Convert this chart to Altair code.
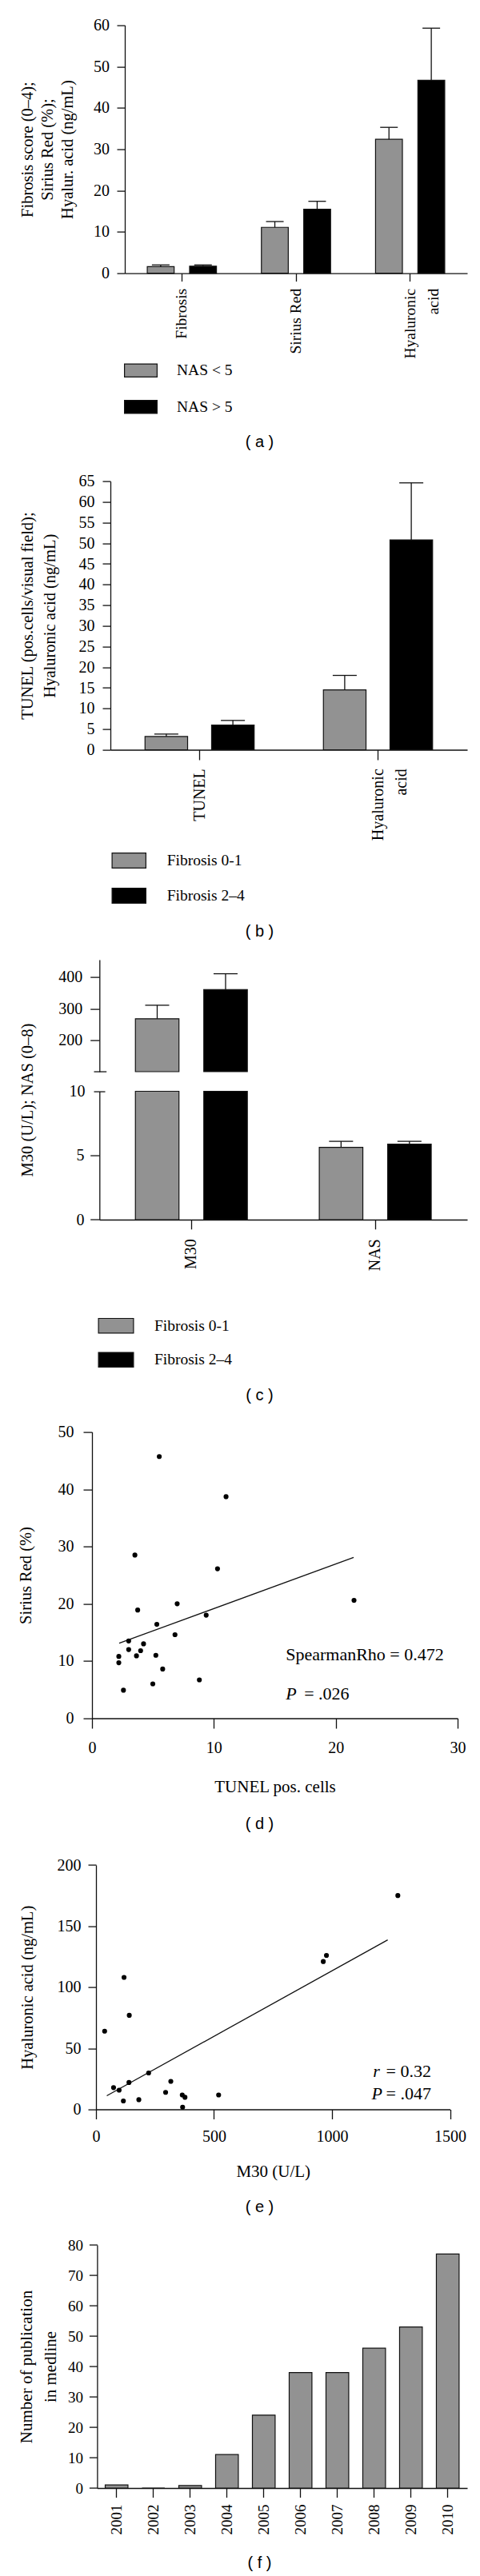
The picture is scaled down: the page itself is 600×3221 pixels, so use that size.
import altair as alt
import pandas as pd

SERIF = "Liberation Serif"
SANS = "Liberation Sans"
GRAY = "#929292"
INK = "#111111"

# ---------------- layout (page pixels) ----------------
VX, VY = 100.0, 31.6          # page position of the single view's origin
W, BOTTOM = 483.0, 3111.0     # view width, page y of the view's bottom edge
H_VIEW = BOTTOM - VY
LABEL_X = 323.0               # page x of the panel captions

# ---------------- data ----------------
# (a)
a_categories = ["Fibrosis", "Sirius Red", "Hyaluronic\nacid"]
a_groups = ["NAS < 5", "NAS > 5"]
a_mean_lt5 = [1.6, 11.1, 32.4]
a_top_lt5 = [2.0, 12.5, 35.3]
a_mean_gt5 = [1.7, 15.5, 46.7]
a_top_gt5 = [2.0, 17.4, 59.3]
a_yticks = [0, 10, 20, 30, 40, 50, 60]
a_ytitle = ["Fibrosis score (0–4);", "Sirius Red (%);", "Hyalur. acid (ng/mL)"]

# (b)
b_categories = ["TUNEL", "Hyaluronic\nacid"]
b_groups = ["Fibrosis 0-1", "Fibrosis 2–4"]
b_mean_f01 = [3.2, 14.5]
b_top_f01 = [3.8, 18.0]
b_mean_f24 = [6.0, 50.8]
b_top_f24 = [7.1, 64.6]
b_yticks = [0, 5, 10, 15, 20, 25, 30, 35, 40, 45, 50, 55, 60, 65]
b_ytitle = ["TUNEL (pos.cells/visual field);", "Hyaluronic acid (ng/mL)"]

# (c)
c_categories = ["M30", "NAS"]
c_groups = ["Fibrosis 0-1", "Fibrosis 2–4"]
c_mean_f01 = [268, 5.63]
c_top_f01 = [311, 6.1]
c_mean_f24 = [361, 5.88]
c_top_f24 = [411, 6.1]
c_upper_domain = [100, 455.6]
c_upper_ticks = [200, 300, 400]
c_lower_domain = [0, 10]
c_lower_ticks = [0, 5]
c_upper_break = [100]
c_lower_break = [10]

# (d)
d_tunel = [5.52, 11.0, 3.52, 10.3, 21.5, 6.99, 3.75, 9.37, 5.32, 6.81, 3.01,
           4.23, 3.01, 3.99, 2.2, 3.65, 5.24, 2.2, 5.8, 8.81, 4.99, 2.58]
d_sirius = [45.7, 38.7, 28.5, 26.1, 20.6, 20.0, 18.9, 18.0, 16.4, 14.6, 13.5,
            13.0, 12.0, 11.8, 10.8, 10.9, 11.0, 9.7, 8.6, 6.7, 6.0, 4.9]
d_fit_tunel = [2.23, 21.47]
d_fit_sirius = [13.1, 28.1]
d_xticks = [0, 10, 20, 30]
d_yticks = [0, 10, 20, 30, 40, 50]
d_note_x = [15.9]
d_rho_y = [11.1]
d_p_y = [4.3]

# (e)
e_m30 = [36.6, 118.8, 141.0, 74.4, 98.0, 139.7, 116.0, 181.5, 223.0, 295.0,
         317.0, 365.5, 377.0, 367.0, 519.6, 963.0, 976.5, 1279.0]
e_ha = [64.0, 108.0, 77.0, 17.8, 15.7, 22.0, 6.9, 7.9, 29.8, 13.9,
        22.9, 11.8, 9.9, 1.8, 11.8, 121.0, 126.0, 175.0]
e_fit_m30 = [45.7, 1236.0]
e_fit_ha = [11.1, 138.7]
e_xticks = [0, 500, 1000, 1500]
e_yticks = [0, 50, 100, 150, 200]
e_note_x = [1420.3]
e_r_y = [31.1]
e_p_y = [12.8]

# (f)
f_years = ["2001", "2002", "2003", "2004", "2005", "2006", "2007", "2008", "2009", "2010"]
f_counts = [1, 0, 0.8, 11, 24, 38, 38, 46, 53, 77]
f_yticks = [0, 10, 20, 30, 40, 50, 60, 70, 80]

# ---------------- helpers ----------------
CAPTION = dict(titleFont=SANS, titleFontSize=20, titleFontWeight="normal",
               titleColor="black", titleBaseline="top", titleAlign="center",
               titleX=LABEL_X - VX, titleLimit=600)


def grouped_frame(cats, groups, means, tops):
    rows = []
    for g, ms, ts in zip(groups, means, tops):
        for c, m, t in zip(cats, ms, ts):
            rows.append({"cat": c, "grp": g, "mean": m, "upper": t})
    return pd.DataFrame(rows)


def rect_symbol(w, h, unit=9.0, sw=1.2):
    hw = (w - sw) / 2 / unit
    hh = (h - sw) / 2 / unit
    return (f"M{-hw:.4f},{-hh:.4f}L{hw:.4f},{-hh:.4f}"
            f"L{hw:.4f},{hh:.4f}L{-hw:.4f},{hh:.4f}Z")


def box_legend(w, h, row_step, label_start, left, top):
    return alt.Legend(
        orient="none", legendX=left - VX, legendY=top - VY, title=None,
        direction="vertical", padding=0, symbolType=rect_symbol(w, h),
        symbolSize=324, symbolStrokeColor=INK, symbolStrokeWidth=1.2,
        symbolOpacity=1, symbolOffset=w / 2 - 10, labelOffset=label_start - 20,
        rowPadding=row_step - 20, labelFont=SERIF, labelFontSize=19.5,
        labelColor="black", labelBaseline="middle", labelLimit=300)


def y_scale(domain, top, bottom):
    return alt.Scale(domain=domain, range=[bottom - VY, top - VY], nice=False, zero=False)


def left_axis(ax, values, tick, pad, top=None, bottom=None, title=None, title_left=23,
              line_h=None, font=20, title_font=20.5, title_y=None, **kw):
    args = dict(orient="left", values=values, offset=-(ax - VX), tickSize=tick,
                labelPadding=pad, labelFontSize=font)
    if title is None:
        args["title"] = None
    else:
        ty = title_y if title_y is not None else (top + bottom) / 2
        args.update(title=title, titleX=title_left - ax, titleY=ty - VY,
                    titleBaseline="top", titleAlign="center", titleFontSize=title_font,
                    titleLimit=600)
        if line_h:
            args["titleLineHeight"] = line_h
    args.update(kw)
    return alt.Axis(**args)


def bottom_axis(bottom, **kw):
    return alt.Axis(orient="bottom", offset=-(BOTTOM - bottom), **kw)


def band_x_axis(bottom, tick, pad, caption, caption_top, font=20):
    return bottom_axis(
        bottom, labelAngle=-90, labelAlign="right", labelBaseline="middle",
        labelExpr="split(datum.label, '\\n')", labelLineHeight=29,
        tickSize=tick, labelPadding=pad, labelFontSize=font,
        title=caption, titleY=caption_top - bottom, **CAPTION)


def caption_axis(bottom, caption, caption_top):
    return bottom_axis(bottom, domain=False, ticks=False, labels=False,
                       title=caption, titleY=caption_top - bottom, **CAPTION)


def fill_enc(groups, legend):
    return alt.Fill("grp:N", scale=alt.Scale(domain=groups, range=[GRAY, "black"]),
                    legend=legend)


def grouped_layers(df, cats, groups, ax, top, bottom, ydom, yaxis, xaxis,
                   off_in, off_out, cap, legend):
    xs = alt.Scale(domain=cats, range=[ax - VX, W], paddingInner=0, paddingOuter=0)
    xo = alt.XOffset("grp:N", scale=alt.Scale(domain=groups, paddingInner=off_in,
                                              paddingOuter=off_out))
    ys = y_scale(ydom, top, bottom)
    bars = alt.Chart(df).mark_bar(stroke=INK, strokeWidth=1.2).encode(
        x=alt.X("cat:N", scale=xs, axis=xaxis), xOffset=xo,
        y=alt.Y("mean:Q", scale=ys, axis=yaxis), y2=alt.Y2Datum(0),
        fill=fill_enc(groups, legend))
    stems = alt.Chart(df).mark_rule(color=INK, strokeWidth=1.3).encode(
        x=alt.X("cat:N", scale=xs, axis=None), xOffset=xo,
        y=alt.Y("mean:Q", scale=ys, axis=None), y2="upper:Q")
    caps = alt.Chart(df).mark_tick(color=INK, thickness=1.3, size=cap, opacity=1).encode(
        x=alt.X("cat:N", scale=xs, axis=None), xOffset=xo,
        y=alt.Y("upper:Q", scale=ys, axis=None))
    return [bars, stems, caps]


TXT = dict(font=SERIF, fontSize=22, color="black", baseline="middle")

# ---------------- (a) ----------------
AX_A, TOP_A, BOT_A = 155.0, 31.6, 341.6
layers_a = grouped_layers(
    grouped_frame(a_categories, a_groups, [a_mean_lt5, a_mean_gt5], [a_top_lt5, a_top_gt5]),
    a_categories, a_groups, AX_A, TOP_A, BOT_A, [0, 60],
    left_axis(AX_A, a_yticks, 10, 9.6, TOP_A, BOT_A, title=a_ytitle, line_h=25),
    band_x_axis(BOT_A, 10, 8.7, "( a )", 542.2, font=19.5),
    0.365, 0.531, 22,
    box_legend(42, 17.5, 43.5, 55, 154, 453.25))

# ---------------- (b) ----------------
AX_B, TOP_B, BOT_B = 137.0, 601.7, 937.5
layers_b = grouped_layers(
    grouped_frame(b_categories, b_groups, [b_mean_f01, b_mean_f24], [b_top_f01, b_top_f24]),
    b_categories, b_groups, AX_B, TOP_B, BOT_B, [0, 65],
    left_axis(AX_B, b_yticks, 10, 10, TOP_B, BOT_B, title=b_ytitle, line_h=28.5),
    band_x_axis(BOT_B, 12.5, 10.7, "( b )", 1154.2),
    0.36, 0.52, 30,
    box_legend(43.5, 20, 40, 57.5, 138.5, 1066))

# ---------------- (c) broken axis ----------------
AX_C = 123.3
UP_TOP, UP_BOT, LO_TOP, LO_BOT = 1200.0, 1340.0, 1364.5, 1525.0
df_c = grouped_frame(c_categories, c_groups, [c_mean_f01, c_mean_f24], [c_top_f01, c_top_f24])
xs_c = alt.Scale(domain=c_categories, range=[AX_C - VX, W], paddingInner=0, paddingOuter=0)
xo_c = alt.XOffset("grp:N", scale=alt.Scale(domain=c_groups, paddingInner=0.363,
                                            paddingOuter=0.526))
ys_up = y_scale(c_upper_domain, UP_TOP, UP_BOT)
ys_lo = y_scale(c_lower_domain, LO_TOP, LO_BOT)
legend_c = box_legend(45, 19.5, 38.5, 58, 121.5, 1647.65)
ax_up = left_axis(AX_C, c_upper_ticks, 11.6, 10)
ax_up_break = alt.Axis(orient="left", values=c_upper_break, offset=-(AX_C - VX) - 8.4,
                       tickSize=15.7, labels=False, domain=False, title=None)
ax_lo = left_axis(AX_C, c_lower_ticks, 11.6, 7.7, title="M30 (U/L); NAS (0–8)",
                  title_y=1375)
ax_lo_break = alt.Axis(orient="left", values=c_lower_break, offset=-(AX_C - VX) - 6.7,
                       tickSize=14, labelPadding=11, domain=False, title=None,
                       labelFontSize=20)
xa_c = band_x_axis(LO_BOT, 11.8, 12, "( c )", 1734.2)


def c_rows(cat=None):
    ch = alt.Chart(df_c)
    return ch.transform_filter(alt.datum.cat == cat) if cat else ch


def xc(axis=None):
    return alt.X("cat:N", scale=xs_c, axis=axis)


layers_c = [
    c_rows("M30").mark_bar(stroke=INK, strokeWidth=1.2).encode(
        x=xc(), xOffset=xo_c, y=alt.Y("mean:Q", scale=ys_up, axis=ax_up),
        y2=alt.Y2Datum(c_upper_break[0]), fill=fill_enc(c_groups, legend_c)),
    c_rows("M30").mark_rule(color=INK, strokeWidth=1.3).encode(
        x=xc(), xOffset=xo_c, y=alt.Y("mean:Q", scale=ys_up, axis=None), y2="upper:Q"),
    c_rows("M30").mark_tick(color=INK, thickness=1.3, size=30, opacity=1).encode(
        x=xc(), xOffset=xo_c, y=alt.Y("upper:Q", scale=ys_up, axis=ax_up_break)),
    c_rows().transform_calculate(low=f"min(datum.mean, {c_lower_domain[1]})").mark_bar(
        stroke=INK, strokeWidth=1.2).encode(
        x=xc(xa_c), xOffset=xo_c, y=alt.Y("low:Q", scale=ys_lo, axis=ax_lo),
        y2=alt.Y2Datum(0), fill=fill_enc(c_groups, None)),
    c_rows("NAS").mark_rule(color=INK, strokeWidth=1.3).encode(
        x=xc(), xOffset=xo_c, y=alt.Y("mean:Q", scale=ys_lo, axis=None), y2="upper:Q"),
    c_rows("NAS").mark_tick(color=INK, thickness=1.3, size=30, opacity=1).encode(
        x=xc(), xOffset=xo_c, y=alt.Y("upper:Q", scale=ys_lo, axis=ax_lo_break)),
]

# ---------------- (d) scatter ----------------
AX_D, TOP_D, BOT_D, RIGHT_D = 114.0, 1790.5, 2148.5, 571.0
xs_d = alt.Scale(domain=[0, 30], range=[AX_D - VX, RIGHT_D - VX], nice=False, zero=False)
ys_d = y_scale([0, 50], TOP_D, BOT_D)
xa_d = bottom_axis(BOT_D, values=d_xticks, tickSize=12.5, labelPadding=14.8,
                   title="TUNEL pos. cells", titleY=75, titleBaseline="top",
                   titleAlign="center", titleX=(AX_D + RIGHT_D) / 2 - VX, titleFontSize=21)
ya_d = left_axis(AX_D, d_yticks, 11, 12, TOP_D, BOT_D, title="Sirius Red (%)", title_left=21)


def enc_d(ch, xaxis=None, yaxis=None):
    return ch.encode(x=alt.X("tunel:Q", scale=xs_d, axis=xaxis),
                     y=alt.Y("sirius:Q", scale=ys_d, axis=yaxis))


layers_d = [
    enc_d(alt.Chart(pd.DataFrame({"tunel": d_fit_tunel, "sirius": d_fit_sirius}))
          .mark_line(color=INK, strokeWidth=1.3),
          xaxis=caption_axis(BOT_D, "( d )", 2270.2)),
    enc_d(alt.Chart(pd.DataFrame({"tunel": d_tunel, "sirius": d_sirius}))
          .mark_circle(size=38, color="black", opacity=1), xaxis=xa_d, yaxis=ya_d),
    enc_d(alt.Chart(pd.DataFrame({"tunel": d_note_x, "sirius": d_rho_y,
                                  "t": ["SpearmanRho = 0.472"]}))
          .mark_text(align="left", **TXT)).encode(text="t:N"),
    enc_d(alt.Chart(pd.DataFrame({"tunel": d_note_x, "sirius": d_p_y, "t": ["P"]}))
          .mark_text(align="left", fontStyle="italic", **TXT)).encode(text="t:N"),
    enc_d(alt.Chart(pd.DataFrame({"tunel": d_note_x, "sirius": d_p_y, "t": ["= .026"]}))
          .mark_text(align="left", dx=23, **TXT)).encode(text="t:N"),
]

# ---------------- (e) scatter ----------------
AX_E, TOP_E, BOT_E, RIGHT_E = 119.0, 2332.0, 2637.5, 561.5
xs_e = alt.Scale(domain=[0, 1500], range=[AX_E - VX, RIGHT_E - VX], nice=False, zero=False)
ys_e = y_scale([0, 200], TOP_E, BOT_E)
xa_e = bottom_axis(BOT_E, values=e_xticks, format="d", tickSize=12, labelPadding=12.3,
                   title="M30 (U/L)", titleY=66.5, titleBaseline="top",
                   titleAlign="center", titleX=(AX_E + RIGHT_E) / 2 - VX, titleFontSize=21)
ya_e = left_axis(AX_E, e_yticks, 10, 9, TOP_E, BOT_E, title="Hyaluronic acid (ng/mL)",
                 format="d")


def enc_e(ch, xaxis=None, yaxis=None):
    return ch.encode(x=alt.X("m30:Q", scale=xs_e, axis=xaxis),
                     y=alt.Y("ha:Q", scale=ys_e, axis=yaxis))


layers_e = [
    enc_e(alt.Chart(pd.DataFrame({"m30": e_fit_m30, "ha": e_fit_ha}))
          .mark_line(color=INK, strokeWidth=1.3),
          xaxis=caption_axis(BOT_E, "( e )", 2749.7)),
    enc_e(alt.Chart(pd.DataFrame({"m30": e_m30, "ha": e_ha}))
          .mark_circle(size=38, color="black", opacity=1), xaxis=xa_e, yaxis=ya_e),
    enc_e(alt.Chart(pd.DataFrame({"m30": e_note_x * 2, "ha": e_r_y + e_p_y,
                                  "t": ["= 0.32", "= .047"]}))
          .mark_text(align="right", **TXT)).encode(text="t:N"),
    enc_e(alt.Chart(pd.DataFrame({"m30": e_note_x, "ha": e_r_y, "t": ["r"]}))
          .mark_text(align="right", dx=-64.2, fontStyle="italic", **TXT)).encode(text="t:N"),
    enc_e(alt.Chart(pd.DataFrame({"m30": e_note_x, "ha": e_p_y, "t": ["P"]}))
          .mark_text(align="right", dx=-61, fontStyle="italic", **TXT)).encode(text="t:N"),
]

# ---------------- (f) bars ----------------
AX_F, TOP_F = 120.4, 2807.0
layers_f = [
    alt.Chart(pd.DataFrame({"year": f_years, "count": f_counts}))
    .mark_bar(fill=GRAY, stroke=INK, strokeWidth=1.2).encode(
        x=alt.X("year:N",
                scale=alt.Scale(domain=f_years, range=[AX_F - VX, W],
                                paddingInner=0.382, paddingOuter=0.22),
                axis=bottom_axis(BOTTOM, labelAngle=-90, labelAlign="right",
                                 labelBaseline="middle", tickSize=11.6, labelPadding=8.5,
                                 labelFontSize=19, title="( f )",
                                 titleY=3194.2 - BOTTOM, **CAPTION)),
        y=alt.Y("count:Q", scale=y_scale([0, 80], TOP_F, BOTTOM),
                axis=left_axis(AX_F, f_yticks, 10, 8, TOP_F, BOTTOM,
                               title=["Number of publication", "in medline"],
                               title_left=21, line_h=30.5, font=19, title_font=21)),
        y2=alt.Y2Datum(0),
    )
]

# ---------------- one view holding every panel ----------------
chart = alt.layer(
    *(layers_a + layers_b + layers_c + layers_d + layers_e + layers_f)
).resolve_scale(
    x="independent", y="independent", xOffset="independent", fill="independent"
).resolve_axis(
    x="independent", y="independent"
).resolve_legend(
    fill="independent"
).properties(
    width=W, height=H_VIEW,
    padding={"left": 13, "top": 13.6, "right": 4, "bottom": 2},
).configure_view(stroke=None).configure_axis(
    domainColor=INK, tickColor=INK, domainWidth=1.3, tickWidth=1.3,
    labelColor="black", titleColor="black", labelFont=SERIF, titleFont=SERIF,
    labelFontSize=20, titleFontSize=20.5, titleFontWeight="normal", grid=False,
    labelFlush=False, labelOverlap=False,
).configure_legend(labelFont=SERIF, labelFontSize=19.5, labelColor="black")

chart.save("out.html", embed_options={"renderer": "svg", "actions": False})
